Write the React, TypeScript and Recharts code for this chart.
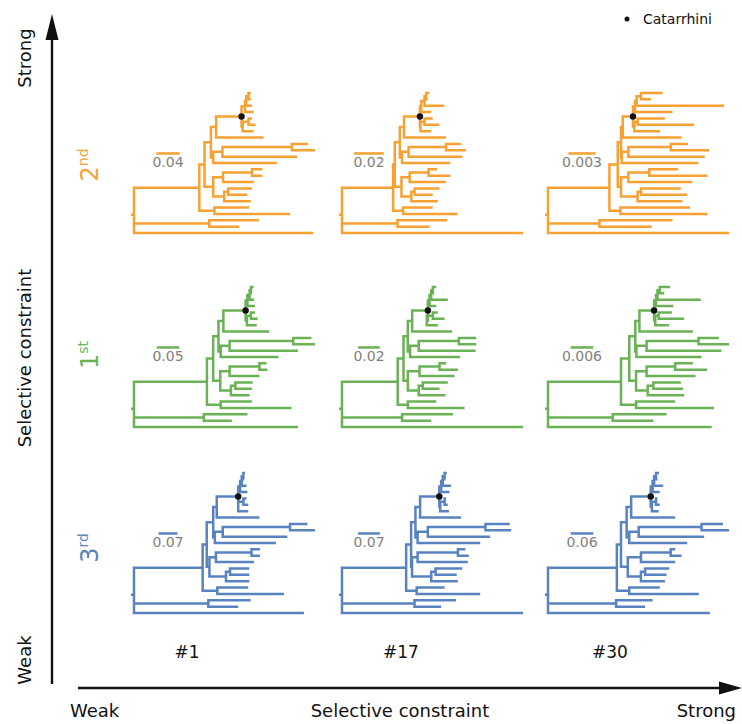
import React from "react";
import { LineChart, Line, XAxis, YAxis, ReferenceLine, ReferenceDot } from "recharts";

// internal nodes, in the order used by every *Nodes array below (root = 0)
const innerNodes = ["ING", "TOP", "A", "CS", "CAT", "UP", "UPa", "UPb", "DN", "DN1", "B", "C", "D", "E", "F", "H", "G", "I", "K", "P"];

// topology shared by all nine trees; tips t0..t22 from top to bottom
const edges: [string, string[]][] = [
    ["R", ["ING", "P", "t22"]],
    ["ING", ["TOP", "K"]],
    ["TOP", ["A", "E"]],
    ["A", ["CS", "B"]],
    ["CS", ["CAT", "t7"]],
    ["CAT", ["UP", "DN"]],
    ["UP", ["UPa", "t3"]],
    ["UPa", ["UPb", "t2"]],
    ["UPb", ["t0", "t1"]],
    ["DN", ["DN1", "t6"]],
    ["DN1", ["t4", "t5"]],
    ["B", ["C", "t11"]],
    ["C", ["D", "t10"]],
    ["D", ["t8", "t9"]],
    ["E", ["F", "G"]],
    ["F", ["H", "t14"]],
    ["H", ["t12", "t13"]],
    ["G", ["I", "t17"]],
    ["I", ["t15", "t16"]],
    ["K", ["t18", "t19"]],
    ["P", ["t20", "t21"]],
];
const tipCount = 23;

// node depths (substitutions / site)
const o1Nodes = [0.113, 0.122, 0.133, 0.142, 0.186, 0.192, 0.194, 0.198, 0.188, 0.198, 0.137, 0.153, 0.273, 0.137, 0.154, 0.204, 0.156, 0.163, 0.139, 0.130];
const o1Tips = [0.202, 0.202, 0.204, 0.207, 0.204, 0.210, 0.207, 0.224, 0.301, 0.313, 0.282, 0.247, 0.222, 0.222, 0.207, 0.204, 0.196, 0.202, 0.199, 0.270, 0.216, 0.182, 0.310];
const o17Nodes = [0.0344, 0.0355, 0.0389, 0.0417, 0.0524, 0.0533, 0.0555, 0.0566, 0.0528, 0.0555, 0.0404, 0.0448, 0.0699, 0.0400, 0.0455, 0.0582, 0.0466, 0.0488, 0.0411, 0.0373];
const o17Tips = [0.0588, 0.0577, 0.0688, 0.0600, 0.0610, 0.0655, 0.0600, 0.0699, 0.0800, 0.0833, 0.0810, 0.0728, 0.0639, 0.0728, 0.0699, 0.0655, 0.0610, 0.0644, 0.0610, 0.0777, 0.0706, 0.0588, 0.1217];
const o30Nodes = [0.00677, 0.00769, 0.00805, 0.00824, 0.00937, 0.00959, 0.00977, 0.01025, 0.00952, 0.00988, 0.00813, 0.00886, 0.01354, 0.00805, 0.00886, 0.01116, 0.00988, 0.01025, 0.00798, 0.00567];
const o30Tips = [0.01263, 0.01135, 0.0194, 0.01373, 0.01288, 0.0161, 0.01237, 0.01471, 0.01545, 0.01775, 0.01728, 0.01658, 0.01435, 0.01757, 0.01592, 0.01464, 0.01537, 0.01482, 0.01566, 0.01757, 0.01373, 0.01142, 0.01995];

const g1Nodes = [0.164, 0.178, 0.190, 0.201, 0.251, 0.255, 0.260, 0.263, 0.254, 0.263, 0.195, 0.215, 0.358, 0.194, 0.215, 0.282, 0.218, 0.228, 0.195, 0.157];
const g1Tips = [0.269, 0.265, 0.270, 0.272, 0.272, 0.278, 0.276, 0.304, 0.399, 0.407, 0.369, 0.325, 0.298, 0.300, 0.282, 0.267, 0.265, 0.260, 0.265, 0.354, 0.255, 0.220, 0.369];
const g17Nodes = [0.0514, 0.0567, 0.0607, 0.0647, 0.0792, 0.0807, 0.0822, 0.0838, 0.0782, 0.0838, 0.0628, 0.0708, 0.1078, 0.0607, 0.0715, 0.0899, 0.0708, 0.0745, 0.0607, 0.0554];
const g17Tips = [0.0869, 0.0850, 0.0976, 0.0869, 0.0884, 0.0946, 0.0884, 0.1016, 0.1238, 0.1238, 0.1232, 0.109, 0.0961, 0.1069, 0.1038, 0.0976, 0.0899, 0.0955, 0.0869, 0.113, 0.1023, 0.0822, 0.1669];
const g30Nodes = [0.0194, 0.0216, 0.0232, 0.0243, 0.0282, 0.0287, 0.0291, 0.0297, 0.0285, 0.0294, 0.0235, 0.0262, 0.0400, 0.0234, 0.0262, 0.0338, 0.0265, 0.0280, 0.0234, 0.0172];
const g30Tips = [0.0324, 0.0309, 0.0406, 0.0333, 0.0329, 0.0362, 0.0322, 0.0385, 0.0454, 0.0481, 0.0461, 0.0408, 0.0385, 0.0423, 0.0392, 0.0353, 0.0359, 0.0362, 0.0338, 0.0441, 0.0315, 0.0280, 0.0435];

const b1Nodes = [0.253, 0.268, 0.292, 0.305, 0.384, 0.391, 0.397, 0.403, 0.384, 0.403, 0.298, 0.327, 0.575, 0.278, 0.302, 0.433, 0.339, 0.354, 0.307, 0.274];
const b1Tips = [0.409, 0.405, 0.415, 0.418, 0.415, 0.421, 0.421, 0.462, 0.639, 0.667, 0.565, 0.523, 0.464, 0.464, 0.442, 0.425, 0.425, 0.425, 0.421, 0.553, 0.430, 0.384, 0.626];
const b17Nodes = [0.207, 0.223, 0.237, 0.252, 0.314, 0.320, 0.325, 0.331, 0.317, 0.331, 0.244, 0.277, 0.463, 0.226, 0.244, 0.374, 0.288, 0.302, 0.241, 0.234];
const b17Tips = [0.338, 0.334, 0.352, 0.347, 0.336, 0.341, 0.345, 0.384, 0.541, 0.546, 0.478, 0.446, 0.398, 0.409, 0.406, 0.388, 0.370, 0.374, 0.331, 0.446, 0.368, 0.320, 0.584];
const b30Nodes = [0.183, 0.194, 0.209, 0.221, 0.273, 0.278, 0.282, 0.287, 0.276, 0.287, 0.216, 0.241, 0.408, 0.212, 0.247, 0.326, 0.247, 0.258, 0.216, 0.181];
const b30Tips = [0.295, 0.291, 0.306, 0.297, 0.291, 0.297, 0.294, 0.338, 0.465, 0.481, 0.415, 0.370, 0.338, 0.355, 0.338, 0.322, 0.315, 0.311, 0.297, 0.401, 0.278, 0.258, 0.430];

const columns = ["#1", "#17", "#30"];
const rowNumbers = ["2", "1", "3"];
const rowSuffixes = ["nd", "st", "rd"];
const rowColors = ["#F7A132", "#6AB255", "#5883C0"];
const scaleBars2nd = [0.04, 0.02, 0.003];
const scaleBars1st = [0.05, 0.02, 0.006];
const scaleBars3rd = [0.07, 0.07, 0.06];

const treeData = [
    [[o1Nodes, o1Tips], [o17Nodes, o17Tips], [o30Nodes, o30Tips]],
    [[g1Nodes, g1Tips], [g17Nodes, g17Tips], [g30Nodes, g30Tips]],
    [[b1Nodes, b1Tips], [b17Nodes, b17Tips], [b30Nodes, b30Tips]],
];
const scaleBars = [scaleBars2nd, scaleBars1st, scaleBars3rd];

const FONT = "'DejaVu Sans', Verdana, sans-serif";
const colRootX = [134.3, 341.8, 547.8];
const rowTopY = [93.3, 287.4, 473.3];
const barCenterPx = [34, 27, 34];
const treeW = 181.5;

function buildTree(nodeDepths: number[], tipDepths: number[]) {
    const depth: Record<string, number> = { R: 0 };
    innerNodes.forEach((n, i) => (depth[n] = nodeDepths[i]));
    tipDepths.forEach((d, i) => (depth["t" + i] = d));
    const kids: Record<string, string[]> = Object.fromEntries(edges);
    const y: Record<string, number> = {};
    const place = (n: string): number => {
        if (kids[n]) {
            const ys = kids[n].map(place);
            y[n] = ys.reduce((a, b) => a + b, 0) / ys.length;
        } else {
            y[n] = Number(n.slice(1));
        }
        return y[n];
    };
    place("R");
    const max = Math.max(...tipDepths);
    const stub = (max * 3) / treeW;
    const pts: { x: number; y: number | null }[] = [
        { x: -stub, y: y.R },
        { x: 0, y: y.R },
        { x: 0, y: null },
    ];
    edges.forEach(([p, cs]) =>
        cs.forEach((c) => {
            pts.push(
                { x: depth[p], y: y[p] },
                { x: depth[p], y: y[c] },
                { x: depth[c], y: y[c] },
                { x: depth[c], y: null }
            );
        })
    );
    return { depth, y, pts, max, stub };
}

function TreePanel({ nodes, tips, color, bar, barPx, left, top }: any) {
    const tree = buildTree(nodes, tips);
    const innerW = 184;
    const unitsPerPx = (tree.max + tree.stub) / innerW;
    const mid = barPx * unitsPerPx;
    return (
        <div style={{ position: "absolute", left: left - 6, top: top - 3 }}>
            <LineChart width={190} height={146} data={tree.pts} margin={{ top: 3, right: 3, bottom: 3, left: 3 }}>
                <XAxis type="number" dataKey="x" domain={[-tree.stub, tree.max]} hide />
                <YAxis type="number" domain={[0, tipCount - 1]} reversed hide />
                <Line
                    type="linear"
                    dataKey="y"
                    stroke={color}
                    strokeWidth={2.5}
                    dot={false}
                    activeDot={false}
                    isAnimationActive={false}
                />
                <ReferenceLine
                    segment={[
                        { x: mid - bar / 2, y: 9.5 },
                        { x: mid + bar / 2, y: 9.5 },
                    ]}
                    stroke={color}
                    strokeWidth={2.5}
                    label={{ value: String(bar), position: "bottom", offset: 4, fill: "#7f7f7f", fontSize: 14, fontFamily: FONT }}
                />
                <ReferenceDot x={tree.depth.CAT} y={tree.y.CAT} r={3.2} fill="#111" stroke="none" />
            </LineChart>
        </div>
    );
}

export default function App() {
    return (
        <div style={{ position: "absolute", left: 0, top: 0, width: 742, height: 724, background: "#fff", fontFamily: FONT }}>
            <svg width={742} height={724} style={{ position: "absolute", left: 0, top: 0 }}>
                {/* axes */}
                <line x1={52} y1={684} x2={52} y2={36} stroke="#111" strokeWidth={2.4} />
                <polygon points="52,14 45.5,40 58.5,40" fill="#111" />
                <line x1={78} y1={688} x2={724} y2={688} stroke="#111" strokeWidth={2.4} />
                <polygon points="742,688 719,681.5 719,694.5" fill="#111" />

                <text transform="translate(24,58) rotate(-90)" textAnchor="middle" dominantBaseline="central" fontSize={18} fill="#111">Strong</text>
                <text transform="translate(24,358) rotate(-90)" textAnchor="middle" dominantBaseline="central" fontSize={18} fill="#111">Selective constraint</text>
                <text transform="translate(24,660) rotate(-90)" textAnchor="middle" dominantBaseline="central" fontSize={18} fill="#111">Weak</text>

                <text x={70} y={710} dominantBaseline="central" fontSize={18} fill="#111">Weak</text>
                <text x={400} y={710} textAnchor="middle" dominantBaseline="central" fontSize={18} fill="#111">Selective constraint</text>
                <text x={736} y={710} textAnchor="end" dominantBaseline="central" fontSize={18} fill="#111">Strong</text>

                {columns.map((c, i) => (
                    <text key={c} x={[187, 401, 610][i]} y={652} textAnchor="middle" dominantBaseline="central" fontSize={17} fill="#111">{c}</text>
                ))}

                <circle cx={627} cy={19} r={2.5} fill="#111" />
                <text x={643} y={19} dominantBaseline="central" fontSize={14} fill="#111">Catarrhini</text>

                {rowNumbers.map((n, r) => (
                    <text
                        key={n}
                        transform={`translate(98,${[165, 355, 548][r]}) rotate(-90)`}
                        textAnchor="middle"
                        fill={rowColors[r]}
                    >
                        <tspan fontSize={24}>{n}</tspan>
                        <tspan fontSize={14} dy={-10}>{rowSuffixes[r]}</tspan>
                    </text>
                ))}
            </svg>

            {treeData.map((row, r) =>
                row.map(([nodes, tips], c) => (
                    <TreePanel
                        key={`${r}-${c}`}
                        nodes={nodes}
                        tips={tips}
                        color={rowColors[r]}
                        bar={scaleBars[r][c]}
                        barPx={barCenterPx[c]}
                        left={colRootX[c]}
                        top={rowTopY[r]}
                    />
                ))
            )}
        </div>
    );
}
